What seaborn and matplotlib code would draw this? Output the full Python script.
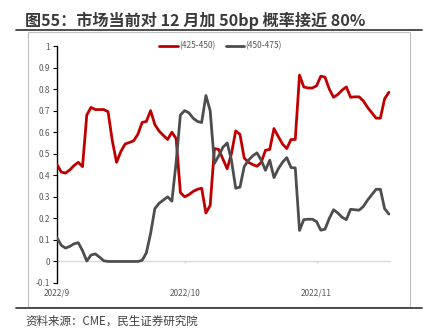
import numpy as np
import pandas as pd
import matplotlib
matplotlib.use("Agg")
import matplotlib.pyplot as plt
from matplotlib.patches import Rectangle
from matplotlib.lines import Line2D
import seaborn as sns

# ---- data ----
dates = pd.date_range("2022-09-01", "2022-11-18", freq="D")
red_vals = [0.45, 0.415, 0.41, 0.425, 0.445, 0.46, 0.44, 0.68, 0.715, 0.705,
            0.705, 0.705, 0.695, 0.56, 0.46, 0.51, 0.545, 0.552, 0.56, 0.59,
            0.645, 0.65, 0.70, 0.635, 0.605, 0.585, 0.566, 0.60, 0.57, 0.32,
            0.30, 0.31, 0.325, 0.335, 0.34, 0.225, 0.26, 0.524, 0.52, 0.475,
            0.43, 0.50, 0.606, 0.59, 0.48, 0.46, 0.45, 0.442, 0.46, 0.516,
            0.52, 0.617, 0.58, 0.545, 0.524, 0.566, 0.566, 0.865, 0.81, 0.805,
            0.805, 0.815, 0.86, 0.855, 0.80, 0.762, 0.775, 0.795, 0.81, 0.762,
            0.764, 0.764, 0.745, 0.715, 0.69, 0.665, 0.665, 0.755, 0.785]
gray_vals = [0.11, 0.075, 0.062, 0.07, 0.082, 0.087, 0.05, 0.002, 0.03, 0.035,
             0.02, 0.003, 0.0, 0.0, 0.0, 0.0, 0.0, 0.0, 0.0, 0.0,
             0.005, 0.04, 0.13, 0.245, 0.27, 0.285, 0.30, 0.28, 0.46, 0.68,
             0.70, 0.69, 0.665, 0.65, 0.645, 0.77, 0.70, 0.455, 0.49, 0.53,
             0.55, 0.47, 0.34, 0.345, 0.44, 0.47, 0.49, 0.504, 0.47, 0.423,
             0.47, 0.389, 0.43, 0.46, 0.482, 0.436, 0.434, 0.144, 0.194, 0.196,
             0.196, 0.185, 0.145, 0.15, 0.20, 0.24, 0.225, 0.205, 0.194, 0.242,
             0.24, 0.238, 0.255, 0.285, 0.31, 0.335, 0.335, 0.245, 0.22]
series_names = ["(425-450)", "(450-475)"]
tick_dates = ["2022-09-01", "2022-10-01", "2022-11-01"]
tick_labels = ["2022/9", "2022/10", "2022/11"]
y_ticks = [-0.1, 0, 0.1, 0.2, 0.3, 0.4, 0.5, 0.6, 0.7, 0.8, 0.9, 1.0]

title = "图55：市场当前对 12 月加 50bp 概率接近 80%"
source = "资料来源：CME，民生证券研究院"

df = pd.DataFrame({
    "date": list(dates) * 2,
    "value": red_vals + gray_vals,
    "series": [series_names[0]] * len(dates) + [series_names[1]] * len(dates),
})

sns.set_style("white")
plt.rcParams["font.family"] = ["Noto Sans CJK SC", "DejaVu Sans"]

colors = {series_names[0]: "#C00000", series_names[1]: "#4D4D4D"}

fig = plt.figure(figsize=(4.46, 3.35), dpi=100)
ax = fig.add_axes([57 / 446, 1 - 283 / 335, (391 - 57) / 446, (283 - 46) / 335])

ax.axhline(0, color="#D9D9D9", lw=1.0, zorder=1)
sns.lineplot(data=df, x="date", y="value", hue="series", palette=colors,
             lw=2.0, ax=ax, legend=False, zorder=3)
for ln in ax.lines:
    ln.set_solid_joinstyle("round")
    ln.set_solid_capstyle("round")

ax.set_xlim(pd.Timestamp("2022-09-01"), pd.Timestamp("2022-11-18 12:00"))
ax.set_ylim(-0.1, 1.0)
ax.set_xlabel("")
ax.set_ylabel("")

ax.set_yticks(y_ticks)
ax.set_yticklabels(["%g" % v for v in y_ticks])
ax.set_xticks([pd.Timestamp(d) for d in tick_dates])
ax.set_xticklabels(tick_labels)

ax.tick_params(axis="y", direction="out", length=3, width=0.8, color="black",
               labelsize=6, labelcolor="#595959", pad=2, left=True)
ax.tick_params(axis="x", length=0, labelsize=6, labelcolor="#595959", pad=4)

for s in ["top", "right", "bottom"]:
    ax.spines[s].set_visible(False)
ax.spines["left"].set_color("black")
ax.spines["left"].set_linewidth(1.0)

# small month tick marks on the zero line
ax.vlines([pd.Timestamp(d) for d in tick_dates[1:]], -0.008, 0, color="#D9D9D9", lw=1.0)

handles = [Line2D([0], [0], color=colors[n], lw=2.0) for n in series_names]
leg = ax.legend(handles, series_names, loc="center", bbox_to_anchor=(0.49, 1.0),
                ncol=2, frameon=False, fontsize=6, handlelength=2.2,
                handletextpad=0.2, columnspacing=1.2)
for t in leg.get_texts():
    t.set_color("#595959")

# frame and decorations
fig.patches.append(Rectangle((28 / 446, 1 - 307 / 335), (410 - 28) / 446, (307 - 32) / 335,
                             transform=fig.transFigure, fill=False,
                             edgecolor="#BFBFBF", lw=0.8))
fig.add_artist(Line2D([16 / 446, 422 / 446], [1 - 29.5 / 335] * 2,
                      transform=fig.transFigure, color="#404040", lw=1.3))
fig.add_artist(Line2D([16 / 446, 422 / 446], [1 - 307.5 / 335] * 2,
                      transform=fig.transFigure, color="#404040", lw=1.3))

fig.text(25 / 446, 1 - 20 / 335, title, fontsize=11.6, fontweight="bold",
         color="#3A3A3A", va="center", ha="left")
fig.text(25 / 446, 1 - 321 / 335, source, fontsize=8.3, color="#404040",
         va="center", ha="left")

fig.savefig("out.png", dpi=100)
